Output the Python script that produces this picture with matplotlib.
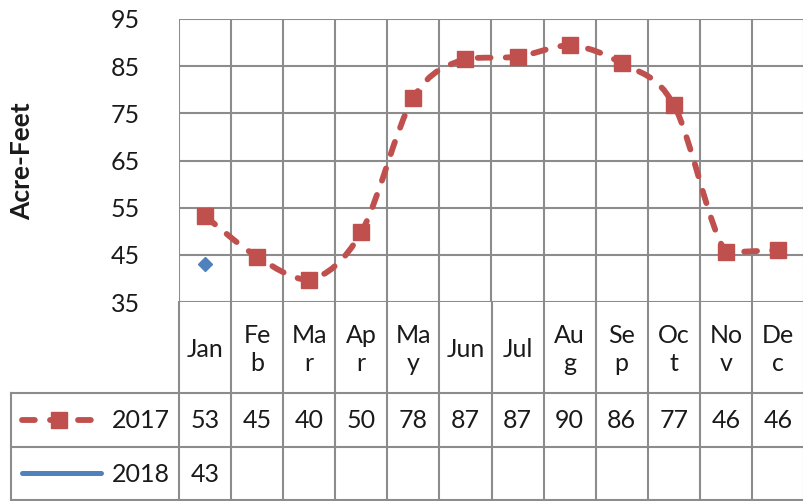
import numpy as np
import matplotlib.pyplot as plt
from matplotlib.path import Path
from matplotlib.patches import PathPatch

# data
months = ["Jan", "Feb", "Mar", "Apr", "May", "Jun", "Jul", "Aug", "Sep", "Oct", "Nov", "Dec"]
month_labels = ["Jan", "Fe\nb", "Ma\nr", "Ap\nr", "Ma\ny", "Jun", "Jul",
                "Au\ng", "Se\np", "Oc\nt", "No\nv", "De\nc"]
vals_2017 = [53.2, 44.6, 39.7, 49.8, 78.3, 86.6, 87.0, 89.4, 85.6, 76.8, 45.6, 46.0]
table_2017 = [53, 45, 40, 50, 78, 87, 87, 90, 86, 77, 46, 46]
vals_2018 = [43.0]
table_2018 = [43]
yticks = [35, 45, 55, 65, 75, 85, 95]

plt.rcParams['font.family'] = ['Lato', 'DejaVu Sans']
red = '#C0504D'
blue = '#4F81BD'
grid_c = '#8c8c8c'
txt_c = '#1a1a1a'
dash = (0, (2.2, 2.6))

W, H = 804, 501
fig = plt.figure(figsize=(W / 100, H / 100), dpi=100)

# plot area in pixels
left, right, top, bottom = 179, 804, 19, 302
ax = fig.add_axes([left / W, 1 - bottom / H, (right - left) / W, (bottom - top) / H])
x = np.arange(len(months))
ax.set_xlim(-0.5, len(months) - 0.5)
ax.set_ylim(35, 95)
ax.set_xticks(np.arange(-0.5, len(months)))
ax.set_xticklabels([])
ax.set_yticks(yticks)
ax.set_yticklabels([str(t) for t in yticks], fontsize=18, color=txt_c)
ax.tick_params(length=0, pad=28)
ax.grid(True, color=grid_c, lw=1.5)
for s in ax.spines.values():
    s.set_visible(False)
ax.set_axisbelow(True)

# smoothed line like excel (bezier through the points, no overshoot)
pts = np.column_stack([x, vals_2017]).astype(float)
verts = [pts[0]]
codes = [Path.MOVETO]
for i in range(len(pts) - 1):
    p0 = pts[max(i - 1, 0)]
    p1, p2 = pts[i], pts[i + 1]
    p3 = pts[min(i + 2, len(pts) - 1)]
    c1 = p1 + (p2 - p0) / 6
    c2 = p2 - (p3 - p1) / 6
    lo, hi = min(p1[1], p2[1]), max(p1[1], p2[1])
    c1[1] = np.clip(c1[1], lo, hi)
    c2[1] = np.clip(c2[1], lo, hi)
    verts += [c1, c2, p2]
    codes += [Path.CURVE4] * 3
ax.add_patch(PathPatch(Path(verts, codes), fill=False, edgecolor=red, lw=4.2,
                       linestyle=dash, capstyle='round', zorder=3))
ax.plot(x, vals_2017, ls='none', color=red, marker='s', ms=11, zorder=4)
ax.plot(x[:len(vals_2018)], vals_2018, color=blue, lw=2.5, marker='D', ms=7, zorder=4)

fig.text(22 / W, 1 - 161 / H, "Acre-Feet", rotation=90, fontsize=19, fontweight='bold',
         ha='center', va='center', color=txt_c)

# data table underneath, same column units as the plot
w = (right - left) / len(months)
tab = fig.add_axes([0, 0, 1, 1])
tab.set_xlim(-0.5 - left / w, len(months) - 0.5)
tab.set_ylim(H, 0)
tab.axis('off')
x0 = -0.5 - (left - 11) / w
xe = len(months) - 0.5
row_cat, row_a, row_b, row_end = 302, 393, 447, 499.5
for xb in np.arange(-0.5, len(months)):
    tab.plot([xb, xb], [row_cat, row_end], color=grid_c, lw=1.5)
tab.plot([x0, x0], [row_a, row_end], color=grid_c, lw=1.5)
for yy in [row_a, row_b, row_end]:
    tab.plot([x0, xe], [yy, yy], color=grid_c, lw=1.5)

for i, lab in enumerate(month_labels):
    tab.text(i, (row_cat + row_a) / 2 + 2, lab, ha='center', va='center', fontsize=18,
             color=txt_c, linespacing=1.25)
for i, v in enumerate(table_2017):
    tab.text(i, (row_a + row_b) / 2 + 1, str(v), ha='center', va='center', fontsize=18, color=txt_c)
for i, v in enumerate(table_2018):
    tab.text(i, (row_b + row_end) / 2 + 1, str(v), ha='center', va='center', fontsize=18, color=txt_c)

# legend keys in the first column
px = lambda p: (p - left) / w - 0.5
ya = (row_a + row_b) / 2
yb = (row_b + row_end) / 2
tab.plot([px(22), px(92)], [ya, ya], color=red, lw=4.2, linestyle=dash,
         dash_capstyle='round')
tab.plot([px(59)], [ya], color=red, marker='s', ms=11)
tab.plot([px(22), px(101)], [yb, yb], color=blue, lw=3.6, solid_capstyle='round')
tab.text(px(170), ya + 1, "2017", ha='right', va='center', fontsize=18, color=txt_c)
tab.text(px(170), yb + 1, "2018", ha='right', va='center', fontsize=18, color=txt_c)

fig.savefig("out.png", dpi=100)
